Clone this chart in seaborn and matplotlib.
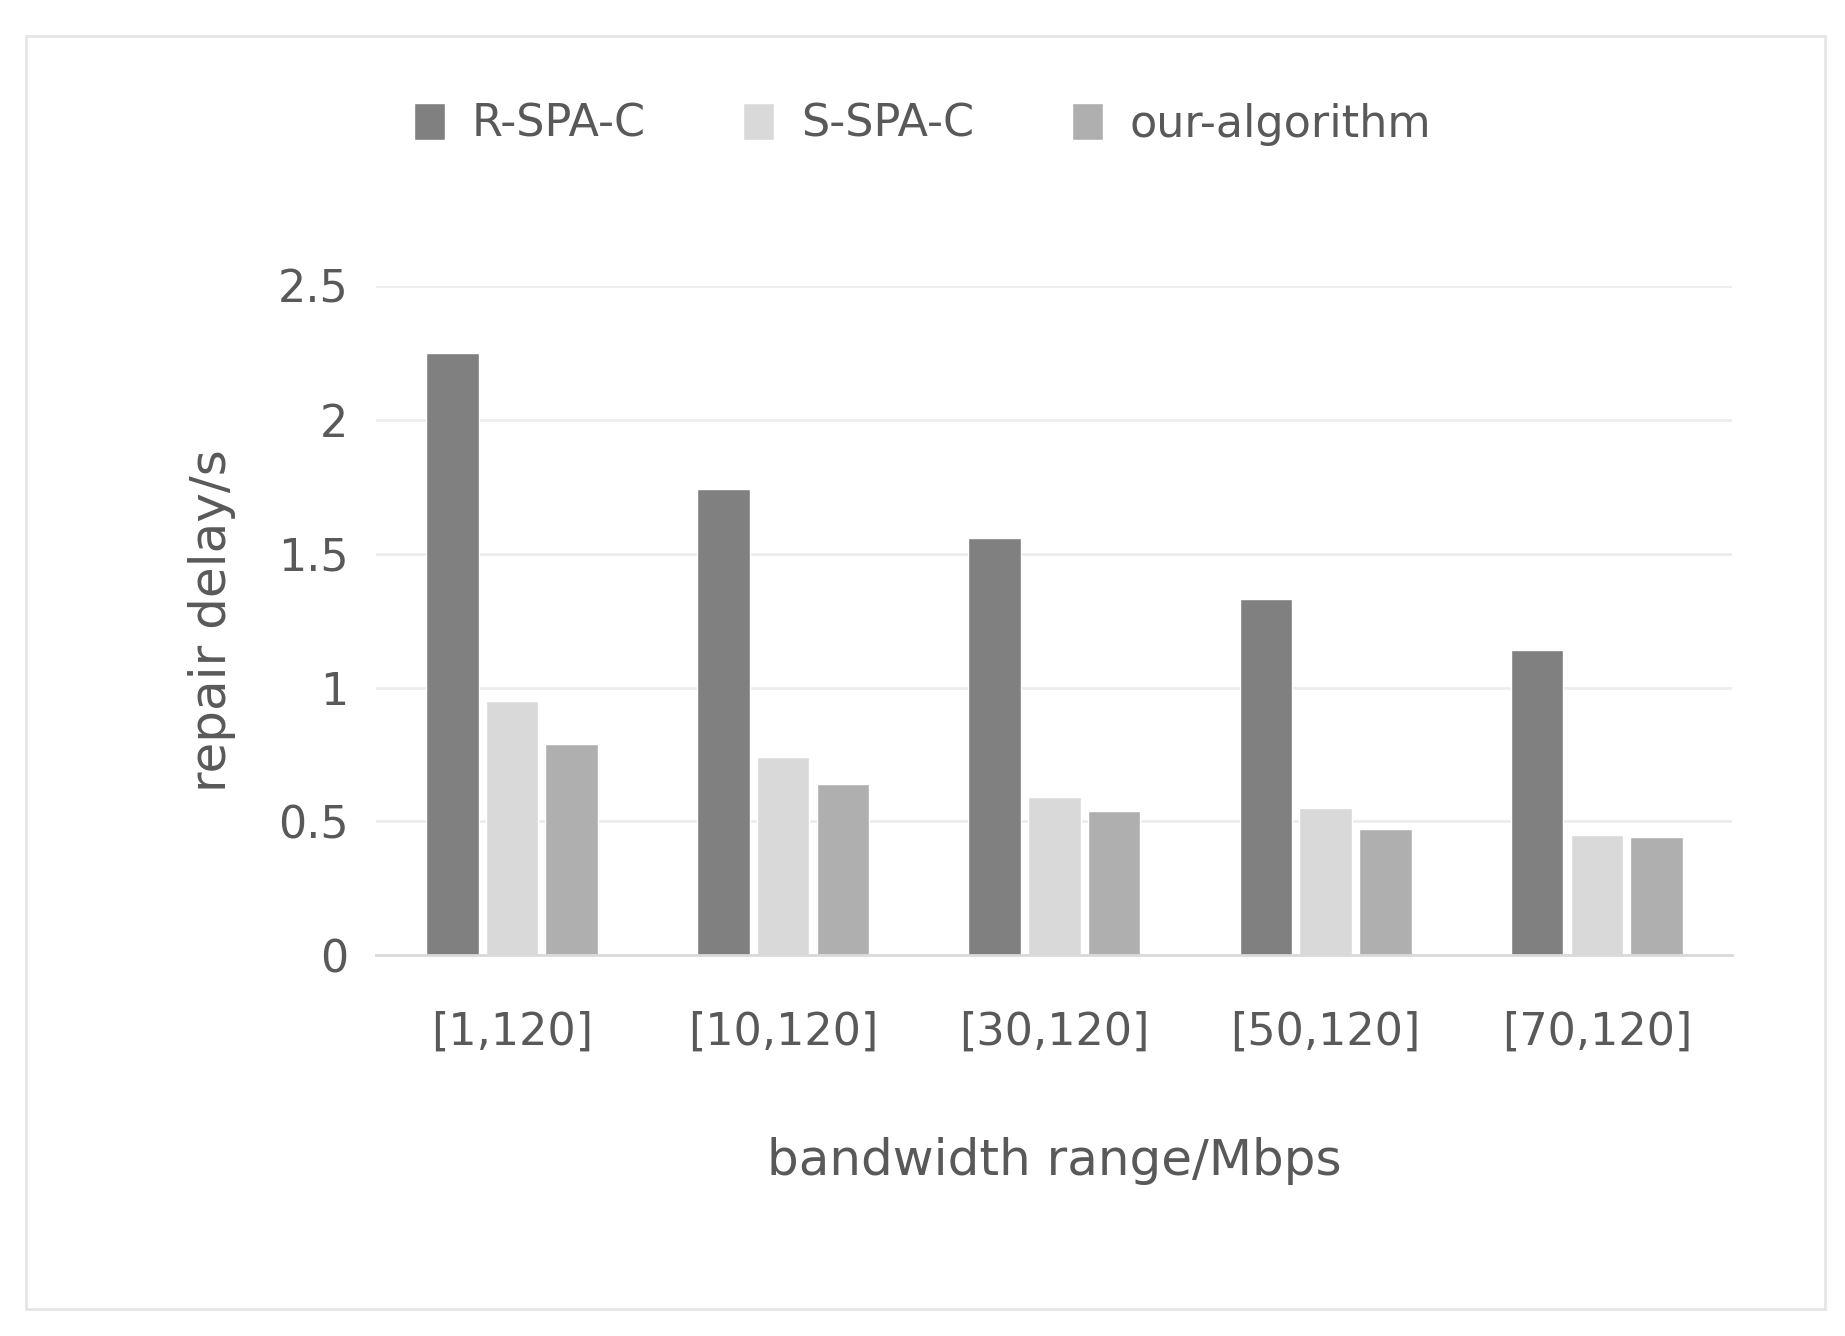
import pandas as pd
import seaborn as sns
import matplotlib.pyplot as plt
from matplotlib.patches import Rectangle

categories = ["[1,120]", "[10,120]", "[30,120]", "[50,120]", "[70,120]"]
series = ["R-SPA-C", "S-SPA-C", "our-algorithm"]
r_spa_c = [2.25, 1.74, 1.56, 1.33, 1.14]
s_spa_c = [0.95, 0.74, 0.59, 0.55, 0.45]
ours = [0.79, 0.64, 0.54, 0.47, 0.44]
colors = ["#808080", "#d9d9d9", "#afafaf"]

df = pd.DataFrame({"cat": categories * 3,
                   "alg": [s for s in series for _ in categories],
                   "val": r_spa_c + s_spa_c + ours})

sns.set_style("white")
plt.rcParams['font.family'] = ['DejaVu Sans']
txt = "#595959"

fig = plt.figure(figsize=(18.45, 13.36), dpi=100)
fig.patches.append(Rectangle((0.014, 0.02), 0.975, 0.953, transform=fig.transFigure,
                             fill=False, edgecolor="#e6e6e6", lw=2))
ax = fig.add_axes([0.204, 0.285, 0.735, 0.501])
sns.barplot(data=df, x="cat", y="val", hue="alg", palette=colors, ax=ax,
            width=0.66, gap=0.12, saturation=1)
ax.set_ylim(0, 2.5)
ax.set_yticks([0, 0.5, 1, 1.5, 2, 2.5])
ax.set_yticklabels(["0", "0.5", "1", "1.5", "2", "2.5"])
ax.yaxis.grid(True, color="#ececec", lw=2)
ax.set_axisbelow(True)
for s in ["top", "right", "left"]:
    ax.spines[s].set_visible(False)
ax.spines["bottom"].set_color("#d9d9d9")
ax.spines["bottom"].set_linewidth(2)
ax.tick_params(axis="both", labelsize=32, colors=txt, length=0, pad=20)
ax.tick_params(axis="x", pad=40)
ax.set_xlabel("bandwidth range/Mbps", fontsize=36, color=txt, labelpad=60)
ax.set_ylabel("repair delay/s", fontsize=36, color=txt, labelpad=30)
handles, labels = ax.get_legend_handles_labels()
ax.legend_.remove()
fig.legend(handles, labels, loc="center", bbox_to_anchor=(0.5, 0.907), ncol=3,
           frameon=False, fontsize=32, labelcolor=txt, handlelength=0.7,
           handleheight=0.9, columnspacing=2.2, handletextpad=0.6)
fig.savefig("out.png", dpi=100)
